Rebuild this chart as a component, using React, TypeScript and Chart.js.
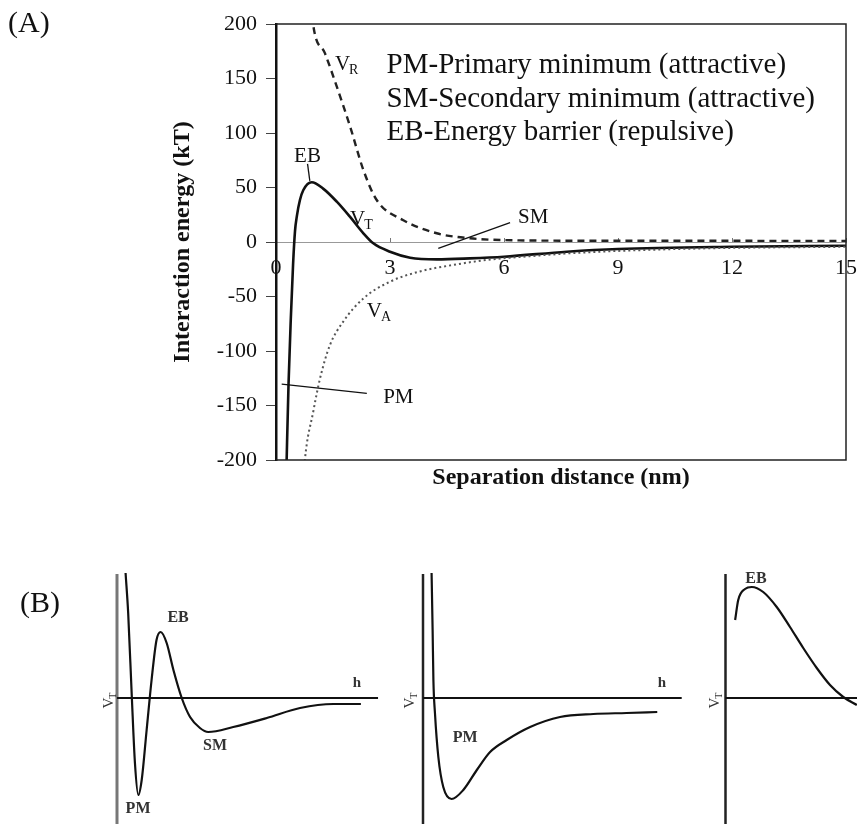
import React, { useEffect, useRef } from 'react';
import { Chart, registerables } from 'chart.js';

Chart.register(...registerables);

const SERIF = "'Liberation Serif', 'Times New Roman', Times, serif";

// ---------- Panel A data ----------
const X_TICKS = [0, 3, 6, 9, 12, 15];
const Y_TICKS = [-200, -150, -100, -50, 0, 50, 100, 150, 200];

const VR_X = [0.9, 0.98, 1.29, 1.6, 1.95, 2.3, 2.65, 3.35, 4.23, 5.1, 6.4, 8.0, 10.0, 12.0, 15.0];
const VR_Y = [230, 199, 173, 142.5, 106, 66, 38.5, 20, 8, 3.4, 1.5, 1.2, 1.2, 1.1, 1.0];

const VT_X = [0.27, 0.28, 0.33, 0.39, 0.45, 0.5, 0.55, 0.63, 0.72, 0.94, 1.24, 1.6, 1.95, 2.3, 2.56, 3.0, 3.53, 4.23, 5.1, 6.0, 7.65, 9.0, 12.0, 15.0];
const VT_Y = [-215, -200, -130, -70, -20, 10, 24, 38.5, 47.7, 54.8, 49, 37, 23, 8, -1.2, -8.9, -14.4, -15.9, -15, -13.5, -8.9, -6.4, -4.3, -3.4];

const VA_X = [0.73, 0.76, 0.98, 1.16, 1.42, 1.77, 2.3, 3.0, 3.79, 4.67, 5.54, 6.5, 8.0, 10.0, 12.0, 15.0];
const VA_Y = [-215, -200, -155.7, -125, -94.5, -73, -51.7, -36.4, -27, -21, -16.5, -13.5, -9.8, -7.0, -5.4, -4.4];

const LEGEND_LINES = [
  'PM-Primary minimum (attractive)',
  'SM-Secondary minimum (attractive)',
  'EB-Energy barrier (repulsive)',
];

// ---------- Panel B data (arbitrary units) ----------
const B1_X = [0.33, 0.43, 0.57, 0.69, 0.82, 0.95, 1.14, 1.33, 1.52, 1.68, 1.91, 2.17, 2.49, 2.81, 3.19, 3.51, 4.47, 5.76, 7.04, 8.32, 9.38];
const B1_Y = [12.5, 8.5, 0.1, -6.5, -9.7, -8.2, -3.2, 1.8, 5.8, 6.6, 5.5, 2.8, 0, -1.9, -3.0, -3.4, -2.9, -2.0, -1.0, -0.6, -0.6];

const B2_X = [0.33, 0.37, 0.4, 0.46, 0.59, 0.78, 1.1, 1.55, 2.07, 2.58, 3.22, 4.12, 5.27, 6.55, 7.83, 9.01];
const B2_Y = [12.5, 6.8, 1.8, -1.5, -5.9, -8.9, -10.1, -9.2, -7.2, -5.4, -4.2, -2.9, -1.9, -1.6, -1.5, -1.4];

const B3_X = [0.37, 0.49, 0.75, 1.01, 1.45, 1.97, 2.48, 2.99, 3.51, 4.02, 4.53, 5.05];
const B3_Y = [7.8, 9.8, 10.9, 11.1, 10.6, 9.1, 7.1, 5.0, 3.0, 1.3, 0.1, -0.7];

const pts = (xs: number[], ys: number[]) => xs.map((x, i) => ({ x, y: ys[i] }));

const noPad = (s: any) => {
  s.paddingLeft = 0;
  s.paddingRight = 0;
  s.paddingTop = 0;
  s.paddingBottom = 0;
};

function PanelA() {
  const ref = useRef<HTMLCanvasElement>(null);
  useEffect(() => {
    const canvas = ref.current!;
    const annot = {
      id: 'annotA',
      afterDraw(chart: any) {
        const { ctx, chartArea: a, scales } = chart;
        const X = (v: number) => scales.x.getPixelForValue(v);
        const Y = (v: number) => scales.y.getPixelForValue(v);
        ctx.save();
        // frame (top, right, bottom)
        ctx.strokeStyle = '#222';
        ctx.lineWidth = 1.5;
        ctx.beginPath();
        ctx.moveTo(a.left, a.top);
        ctx.lineTo(a.right, a.top);
        ctx.lineTo(a.right, a.bottom);
        ctx.lineTo(a.left, a.bottom);
        ctx.stroke();
        // leader lines
        ctx.lineWidth = 1.3;
        ctx.strokeStyle = '#111';
        const seg = (x1: number, y1: number, x2: number, y2: number) => {
          ctx.beginPath();
          ctx.moveTo(X(x1), Y(y1));
          ctx.lineTo(X(x2), Y(y2));
          ctx.stroke();
        };
        seg(0.83, 71.6, 0.89, 56);
        seg(4.27, -5.8, 6.16, 17.7);
        seg(0.15, -130.3, 2.39, -138.8);

        ctx.fillStyle = '#111';
        ctx.textBaseline = 'alphabetic';
        ctx.font = `21px ${SERIF}`;
        ctx.textAlign = 'center';
        ctx.fillText('EB', X(0.83), Y(73.7));
        ctx.textAlign = 'left';
        ctx.fillText('SM', X(6.37), Y(17.4));
        ctx.fillText('PM', X(2.82), Y(-147.7));

        const sub = (m: string, s: string, x: number, y: number) => {
          ctx.textAlign = 'left';
          ctx.font = `21px ${SERIF}`;
          ctx.fillText(m, x, y);
          const w = ctx.measureText(m).width;
          ctx.font = `14px ${SERIF}`;
          ctx.fillText(s, x + w - 1, y + 4);
        };
        sub('V', 'R', X(1.55), Y(157.8));
        sub('V', 'T', X(1.95), Y(15.6));
        sub('V', 'A', X(2.39), Y(-68.5));

        ctx.font = `29px ${SERIF}`;
        ctx.textAlign = 'left';
        const legY = [154.8, 123.6, 93.6];
        LEGEND_LINES.forEach((t, i) => ctx.fillText(t, X(2.91), Y(legY[i])));

        ctx.font = `30px ${SERIF}`;
        ctx.fillText('(A)', 8, 31.5);
        ctx.restore();
      },
    };

    const chart = new Chart(canvas, {
      type: 'line',
      data: {
        datasets: [
          {
            data: pts(VR_X, VR_Y), xAxisID: 'x', yAxisID: 'y',
            borderColor: '#222', borderWidth: 2.4, borderDash: [7, 5],
            pointRadius: 0, cubicInterpolationMode: 'monotone', fill: false,
          },
          {
            data: pts(VA_X, VA_Y), xAxisID: 'x', yAxisID: 'y',
            borderColor: '#555', borderWidth: 2, borderDash: [2, 3],
            pointRadius: 0, cubicInterpolationMode: 'monotone', fill: false,
          },
          {
            data: pts(VT_X, VT_Y), xAxisID: 'x', yAxisID: 'y',
            borderColor: '#111', borderWidth: 2.6,
            pointRadius: 0, cubicInterpolationMode: 'monotone', fill: false,
          },
        ],
      },
      options: {
        animation: false,
        responsive: false,
        events: [],
        layout: { padding: { left: 160, top: 24, right: 11, bottom: 0 } },
        plugins: { legend: { display: false }, tooltip: { enabled: false } },
        scales: {
          x: {
            type: 'linear', min: 0, max: 15, position: { y: 0 } as any,
            afterBuildTicks: (s: any) => { s.ticks = X_TICKS.map((v) => ({ value: v })); },
            afterFit: noPad,
            ticks: { font: { family: SERIF, size: 22 }, color: '#111', padding: 18, maxRotation: 0, autoSkip: false },
            grid: { drawOnChartArea: false, drawTicks: true, tickLength: -5, color: '#777', lineWidth: 1 },
            border: { display: true, color: '#999', width: 1 },
          },
          y: {
            type: 'linear', min: -200, max: 200, position: 'left',
            afterBuildTicks: (s: any) => { s.ticks = Y_TICKS.map((v) => ({ value: v })); },
            afterFit: (s: any) => { s.width = 116; noPad(s); },
            ticks: { font: { family: SERIF, size: 22 }, color: '#111', padding: 9 },
            grid: { drawOnChartArea: false, drawTicks: true, tickLength: 10, color: '#444', lineWidth: 1 },
            border: { display: true, color: '#111', width: 2.5 },
            title: {
              display: true, text: 'Interaction energy (kT)',
              font: { family: SERIF, size: 24, weight: 'bold' }, color: '#111',
              padding: { top: 8, bottom: 0 },
            },
          },
          x2: {
            type: 'linear', min: 0, max: 15, position: 'bottom',
            afterFit: (s: any) => { s.height = 40; noPad(s); },
            ticks: { display: false },
            grid: { display: false, drawTicks: false },
            border: { display: false },
            title: {
              display: true, text: 'Separation distance (nm)',
              font: { family: SERIF, size: 24, weight: 'bold' }, color: '#111',
              padding: { top: 0, bottom: 8 },
            },
          },
        },
      } as any,
      plugins: [annot],
    });
    return () => chart.destroy();
  }, []);
  return (
    <canvas ref={ref} width={857} height={500}
      style={{ position: 'absolute', left: 0, top: 0, width: 857, height: 500, display: 'block' }} />
  );
}

// ---------- Panel B ----------
const B_TOP = 566;
const B_H = 258;
const ORIGIN_Y = 698;
const PX_X = 26;
const PX_Y = 10;

type Lbl = { t: string; x: number; y: number };
interface SubCfg {
  left: number; width: number; ox: number;
  xs: number[]; ys: number[];
  hEnd: number; vColor: string; vWidth: number;
  labels: Lbl[]; vt: { x: number; y: number };
  panelLabel?: boolean;
}

function SubPlot({ cfg }: { cfg: SubCfg }) {
  const ref = useRef<HTMLCanvasElement>(null);
  useEffect(() => {
    const canvas = ref.current!;
    const xMin = (cfg.left - cfg.ox) / PX_X;
    const xMax = (cfg.left + cfg.width - cfg.ox) / PX_X;
    const yMax = (ORIGIN_Y - B_TOP) / PX_Y;
    const yMin = (ORIGIN_Y - B_TOP - B_H) / PX_Y;
    const axes = {
      id: 'axesB',
      beforeDatasetsDraw(chart: any) {
        const { ctx, scales } = chart;
        const X = (v: number) => scales.x.getPixelForValue(v);
        const Y = (v: number) => scales.y.getPixelForValue(v);
        ctx.save();
        ctx.strokeStyle = cfg.vColor;
        ctx.lineWidth = cfg.vWidth;
        ctx.beginPath();
        ctx.moveTo(X(0), Y(12.4));
        ctx.lineTo(X(0), Y(yMin));
        ctx.stroke();
        ctx.strokeStyle = '#111';
        ctx.lineWidth = 2;
        ctx.beginPath();
        ctx.moveTo(X(0), Y(0));
        ctx.lineTo(X(cfg.hEnd), Y(0));
        ctx.stroke();
        ctx.restore();
      },
      afterDraw(chart: any) {
        const { ctx, scales } = chart;
        const X = (v: number) => scales.x.getPixelForValue(v);
        const Y = (v: number) => scales.y.getPixelForValue(v);
        ctx.save();
        ctx.fillStyle = '#333';
        ctx.textAlign = 'center';
        ctx.textBaseline = 'middle';
        cfg.labels.forEach((l) => {
          ctx.font = l.t === 'h' ? `bold 15px ${SERIF}` : `bold 16px ${SERIF}`;
          ctx.fillText(l.t, X(l.x), Y(l.y));
        });
        ctx.translate(X(cfg.vt.x), Y(cfg.vt.y));
        ctx.rotate(-Math.PI / 2);
        ctx.textAlign = 'left';
        ctx.textBaseline = 'alphabetic';
        ctx.font = `15px ${SERIF}`;
        const w1 = ctx.measureText('V').width;
        ctx.font = `10px ${SERIF}`;
        const w2 = ctx.measureText('T').width;
        const start = -(w1 + w2) / 2;
        ctx.font = `15px ${SERIF}`;
        ctx.fillText('V', start, 5);
        ctx.font = `10px ${SERIF}`;
        ctx.fillText('T', start + w1 - 1, 8);
        ctx.restore();
        if (cfg.panelLabel) {
          ctx.save();
          ctx.fillStyle = '#111';
          ctx.font = `30px ${SERIF}`;
          ctx.textAlign = 'left';
          ctx.textBaseline = 'alphabetic';
          ctx.fillText('(B)', 20, 612 - B_TOP);
          ctx.restore();
        }
      },
    };
    const chart = new Chart(canvas, {
      type: 'line',
      data: {
        datasets: [{
          data: pts(cfg.xs, cfg.ys),
          borderColor: '#111', borderWidth: 2.2, pointRadius: 0,
          cubicInterpolationMode: 'monotone', fill: false,
        }],
      },
      options: {
        animation: false, responsive: false, events: [],
        layout: { padding: 0 },
        plugins: { legend: { display: false }, tooltip: { enabled: false } },
        scales: {
          x: { type: 'linear', display: false, min: xMin, max: xMax },
          y: { type: 'linear', display: false, min: yMin, max: yMax },
        },
      } as any,
      plugins: [axes],
    });
    return () => chart.destroy();
  }, []);
  return (
    <canvas ref={ref} width={cfg.width} height={B_H}
      style={{ position: 'absolute', left: cfg.left, top: B_TOP, width: cfg.width, height: B_H, display: 'block' }} />
  );
}

const SUBS: SubCfg[] = [
  {
    left: 0, width: 400, ox: 117, xs: B1_X, ys: B1_Y, hEnd: 10.04,
    vColor: '#777', vWidth: 3,
    labels: [{ t: 'EB', x: 2.35, y: 8.0 }, { t: 'SM', x: 3.77, y: -4.8 }, { t: 'PM', x: 0.81, y: -11.1 }, { t: 'h', x: 9.23, y: 1.5 }],
    vt: { x: -0.35, y: -0.2 }, panelLabel: true,
  },
  {
    left: 396, width: 300, ox: 423, xs: B2_X, ys: B2_Y, hEnd: 9.95,
    vColor: '#222', vWidth: 2.5,
    labels: [{ t: 'PM', x: 1.62, y: -4.0 }, { t: 'h', x: 9.19, y: 1.5 }],
    vt: { x: -0.54, y: -0.2 },
  },
  {
    left: 698, width: 159, ox: 725.5, xs: B3_X, ys: B3_Y, hEnd: 5.06,
    vColor: '#222', vWidth: 2.5,
    labels: [{ t: 'EB', x: 1.17, y: 11.9 }],
    vt: { x: -0.44, y: -0.2 },
  },
];

export default function App() {
  return (
    <div style={{ position: 'absolute', left: 0, top: 0, width: 857, height: 824, background: '#fff', overflow: 'hidden' }}>
      <PanelA />
      {SUBS.map((c, i) => <SubPlot key={i} cfg={c} />)}
    </div>
  );
}
